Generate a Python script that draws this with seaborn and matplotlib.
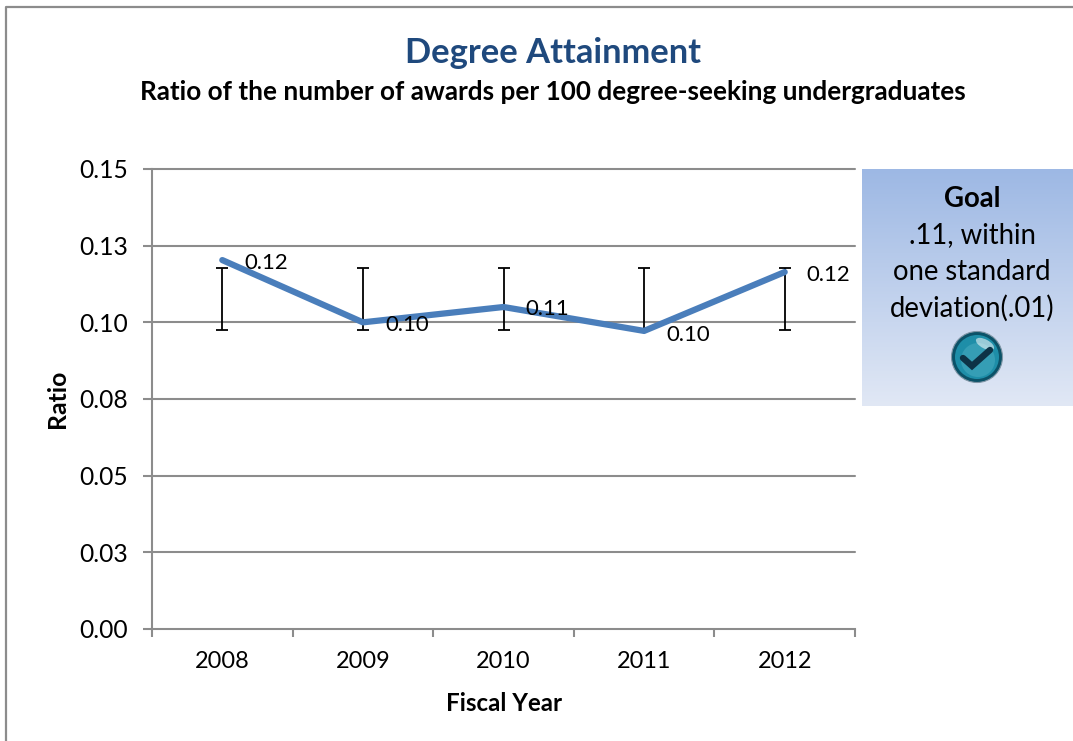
import numpy as np
import pandas as pd
import matplotlib
matplotlib.use("Agg")
import matplotlib.pyplot as plt
from matplotlib.lines import Line2D
from matplotlib.patches import Circle, Ellipse
import seaborn as sns

years = ["2008", "2009", "2010", "2011", "2012"]
ratio = [0.1203, 0.1000, 0.1050, 0.0972, 0.1164]
err_low = [0.0975, 0.0975, 0.0975, 0.0975, 0.0975]
err_high = [0.1177, 0.1177, 0.1177, 0.1177, 0.1177]
point_labels = ["0.12", "0.10", "0.11", "0.10", "0.12"]
y_ticks = [0, 0.025, 0.05, 0.075, 0.1, 0.125, 0.15]
y_labels = ["0.00", "0.03", "0.05", "0.08", "0.10", "0.13", "0.15"]

W, H = 1073, 741
sns.set_theme(style="white")
plt.rcParams["font.family"] = ["Lato", "DejaVu Sans"]
GRID = "#8c8c8c"

fig = plt.figure(figsize=(W / 100, H / 100), dpi=100, facecolor="white")

def fx(p):
    return p / W

def fy(p):
    return 1 - p / H

ax = fig.add_axes([fx(152), fy(629), fx(855 - 152), (629 - 169) / H])
df = pd.DataFrame({"year": years, "ratio": ratio})
pos = np.arange(len(years))
ax.set_axisbelow(True)
for t in y_ticks[1:]:
    ax.axhline(t, color=GRID, lw=1.5, zorder=1, clip_on=False)
low = np.array(err_low)
high = np.array(err_high)
ax.errorbar(pos, (low + high) / 2, yerr=(high - low) / 2, fmt="none", ecolor="black",
            elinewidth=1.3, capsize=4.5, capthick=1.3, zorder=2)
sns.lineplot(data=df, x=pos, y="ratio", ax=ax, color="#4a7ebb", lw=4.5, zorder=3,
             errorbar=None, legend=False, solid_capstyle="round")
# label offsets from each point, in pixels (right, up)
for x, y, s, (dx, dy) in zip(pos, ratio, point_labels,
                             [(44, -3), (44, -3), (44, -2), (44, -4), (44, -3)]):
    ax.annotate(s, (x, y), xytext=(dx * .72, dy * .72), textcoords="offset points",
                ha="center", va="center", fontsize=15.9, color="black", zorder=4)

ax.set_xlim(-0.5, 4.5)
ax.set_ylim(0, 0.15)
ax.set_yticks(y_ticks, y_labels)
ax.set_xticks(pos, years)
ax.set_xticks(np.arange(-0.5, 5, 1), minor=True)
ax.tick_params(axis="y", which="major", length=6.5, width=1.5, color=GRID, labelsize=17.7,
               pad=11, left=True, labelcolor="black")
ax.tick_params(axis="x", which="major", length=0, labelsize=16.9, pad=16, labelcolor="black")
ax.tick_params(axis="x", which="minor", length=6, width=1.5, color=GRID, bottom=True)
for side in ["top", "right"]:
    ax.spines[side].set_visible(False)
for side in ["left", "bottom"]:
    ax.spines[side].set_color(GRID)
    ax.spines[side].set_linewidth(1.5)
ax.set_xlabel("Fiscal Year", fontsize=17.4, fontweight="bold", color="black", labelpad=14)
ax.set_ylabel("Ratio", fontsize=17.8, fontweight="bold", color="black", labelpad=7)

fig.text(fx(553), fy(53), "Degree Attainment", fontsize=24.8, fontweight="bold",
         color="#1f497d", ha="center", va="center")
fig.text(fx(553), fy(92), "Ratio of the number of awards per 100 degree-seeking undergraduates",
         fontsize=18.8, fontweight="bold", color="black", ha="center", va="center")

# frame of the chart area
fig.add_artist(Line2D([fx(6), fx(6), 1], [0, fy(6.5), fy(6.5)], color="#8c8c8c", lw=1.6))

# goal box
box = fig.add_axes([fx(862), fy(406), fx(1073 - 862), (406 - 169) / H])
top = np.array(matplotlib.colors.to_rgb("#9db8e4"))
bot = np.array(matplotlib.colors.to_rgb("#e1e8f5"))
t = np.linspace(0, 1, 256)[:, None, None]
box.imshow(top * (1 - t) + bot * t, aspect="auto", extent=[862, 1073, 406, 169])
box.set_xlim(862, 1073)
box.set_ylim(406, 169)
box.axis("off")
box.text(972, 199, "Goal", fontsize=19.8, fontweight="bold", ha="center", va="center", color="black")
box.text(972, 235, ".11, within", fontsize=19.8, ha="center", va="center", color="black")
box.text(972, 272, "one standard", fontsize=19.8, ha="center", va="center", color="black")
box.text(972, 308, "deviation(.01)", fontsize=19.8, ha="center", va="center", color="black")

# goal-met icon, in pixel coordinates of the box axes (equal scale)
cx, cy = 977, 357
box.add_patch(Circle((cx, cy), 25.5, fc="#0b5268", ec="#7f95a5", lw=0.8, zorder=3))
box.add_patch(Circle((cx, cy), 22, fc="#1e8ea8", ec="none", zorder=4))
box.add_patch(Circle((cx + 1, cy + 3), 17, fc="#45a9be", ec="none", alpha=.6, zorder=5))
box.add_patch(Ellipse((cx + 8, cy - 13), 20, 9, angle=28, fc="white", ec="none", alpha=.55, zorder=6))
box.plot([cx - 14, cx - 5, cx + 13], [cy + 1, cy + 9, cy - 7], color="#0d3346", lw=4.6,
         solid_capstyle="round", solid_joinstyle="miter", zorder=7)

fig.savefig("out.png", dpi=100, facecolor="white")
